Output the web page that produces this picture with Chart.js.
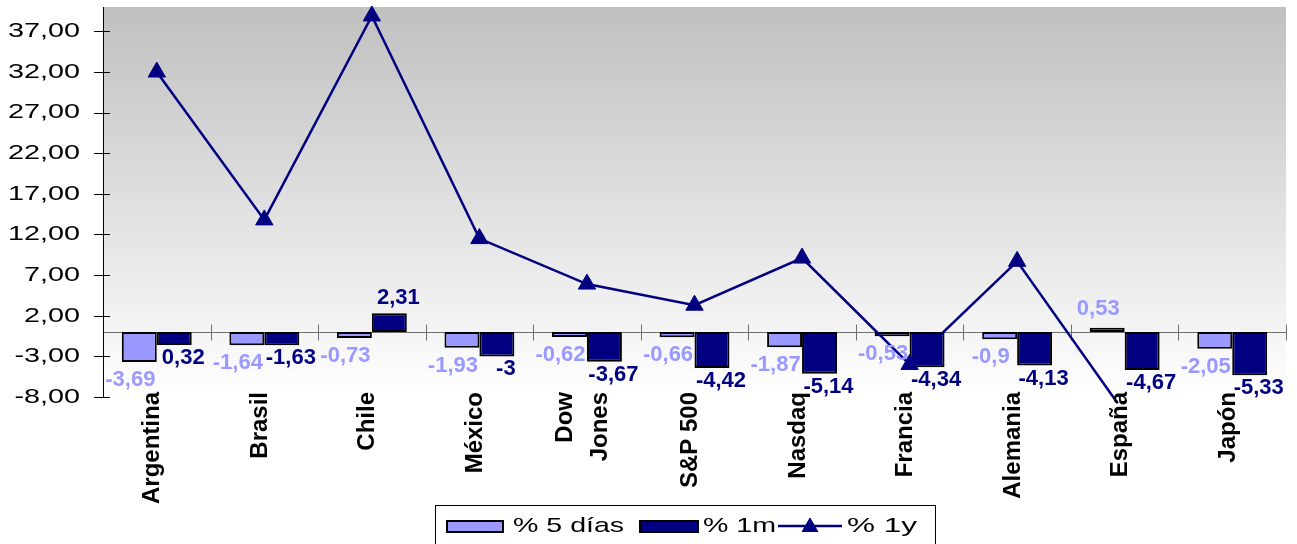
<!DOCTYPE html>
<html>
<head>
<meta charset="utf-8">
<script src="https://cdn.jsdelivr.net/npm/chart.js@4.4.1/dist/chart.umd.min.js"></script>
<style>
    html, body { margin: 0; padding: 0; background: #fff; }
    #wrap { position: relative; width: 1297px; height: 544px; }
</style>
</head>
<body>
<div id="wrap"><canvas id="chart"></canvas></div>
<script>
// datos del gráfico
const categories = ['Argentina', 'Brasil', 'Chile', 'México', ['Dow', 'Jones'], 'S&P 500', 'Nasdaq', 'Francia', 'Alemania', 'España', 'Japón'];
const pct5d = [-3.69, -1.64, -0.73, -1.93, -0.62, -0.66, -1.87, -0.53, -0.9, 0.53, -2.05];
const pct1m = [-1.6, -1.63, 2.31, -3, -3.67, -4.42, -5.14, -4.34, -4.13, -4.67, -5.33];
const pct1y = [32.0, 13.8, 38.9, 11.5, 5.9, 3.3, 9.1, -4.0, 8.7, -10.0, null];
// etiquetas tal como aparecen en la imagen
const labels5d = ['-3,69', '-1,64', '-0,73', '-1,93', '-0,62', '-0,66', '-1,87', '-0,53', '-0,9', '0,53', '-2,05'];
const labels1m = ['0,32', '-1,63', '2,31', '-3', '-3,67', '-4,42', '-5,14', '-4,34', '-4,13', '-4,67', '-5,33'];
const yTicks = [-8, -3, 2, 7, 12, 17, 22, 27, 32, 37];

const NAVY = '#000080';
const LILAC = '#9999FF';
const REGULAR_FONT = '21px "Liberation Sans", Arial, sans-serif';
const BOLD_FONT = 'bold 24px "Liberation Sans", Arial, sans-serif';

// texto ensanchado horizontalmente, como en el original
function drawWide(ctx, text, x, y, align, sx) {
    ctx.save();
    ctx.translate(x, y);
    ctx.scale(sx, 1);
    ctx.textAlign = align;
    ctx.fillText(text, 0, 0);
    ctx.restore();
}

// fondo degradado del área de trazado
const backgroundPlugin = {
    id: 'plotBackground',
    beforeDraw(chart) {
        const { ctx, chartArea: a } = chart;
        const g = ctx.createLinearGradient(0, a.top, 0, a.bottom);
        g.addColorStop(0, '#C0C0C0');
        g.addColorStop(1, '#FFFFFF');
        ctx.save();
        ctx.fillStyle = g;
        ctx.fillRect(a.left, a.top, a.right - a.left, a.bottom - a.top);
        ctx.restore();
    }
};

// eje de categorías en el cero, marcas y rótulos de los ejes
const axesPlugin = {
    id: 'axesText',
    beforeDatasetsDraw(chart) {
        const { ctx, chartArea: a, scales } = chart;
        const y0 = Math.round(scales.y.getPixelForValue(0)) + 0.5;
        ctx.save();
        ctx.strokeStyle = '#707070';
        ctx.lineWidth = 1;
        ctx.beginPath();
        ctx.moveTo(a.left, y0);
        ctx.lineTo(a.right, y0);
        const n = categories.length;
        const step = (a.right - a.left) / n;
        for (let i = 1; i <= n; i++) {
            const x = Math.round(a.left + i * step) + 0.5;
            ctx.moveTo(x, y0 - 8);
            ctx.lineTo(x, y0 + 8);
        }
        ctx.stroke();
        ctx.restore();
    },
    afterDraw(chart) {
        const { ctx, chartArea: a, scales } = chart;
        ctx.save();
        // eje Y: línea, marcas cruzadas y rótulos
        ctx.strokeStyle = '#000';
        ctx.lineWidth = 1;
        ctx.beginPath();
        const ax = Math.round(a.left) + 0.5;
        ctx.moveTo(ax, a.top);
        ctx.lineTo(ax, a.bottom);
        yTicks.forEach(v => {
            const y = Math.round(scales.y.getPixelForValue(v)) + 0.5;
            ctx.moveTo(a.left - 9, y);
            ctx.lineTo(a.left + 7, y);
        });
        ctx.stroke();
        ctx.fillStyle = '#000';
        ctx.font = REGULAR_FONT;
        ctx.textBaseline = 'middle';
        yTicks.forEach(v => {
            const y = scales.y.getPixelForValue(v);
            drawWide(ctx, v.toFixed(2).replace('.', ','), a.left - 23, y, 'right', 1.37);
        });
        // eje X: rótulos verticales
        ctx.font = BOLD_FONT;
        ctx.textAlign = 'right';
        categories.forEach((cat, i) => {
            const lines = Array.isArray(cat) ? cat : [cat];
            const x = scales.x.getPixelForTick(i) - 4;
            lines.forEach((line, j) => {
                const cx = x + (j - (lines.length - 1) / 2) * 35;
                ctx.save();
                ctx.translate(cx, a.bottom - 5);
                ctx.rotate(-Math.PI / 2);
                ctx.fillText(line, 0, 0);
                ctx.restore();
            });
        });
        ctx.restore();
    }
};

// etiquetas de datos de las barras
const barLabelsPlugin = {
    id: 'barLabels',
    afterDatasetsDraw(chart) {
        const { ctx } = chart;
        const conf = [
            { idx: 0, texts: labels5d, color: LILAC, dx: -9, below: 18, above: 19 },
            { idx: 1, texts: labels1m, color: NAVY, dx: 9, below: 13, above: 15 }
        ];
        ctx.save();
        ctx.font = 'bold 22px "Liberation Sans", Arial, sans-serif';
        ctx.textAlign = 'center';
        ctx.textBaseline = 'middle';
        conf.forEach(c => {
            const meta = chart.getDatasetMeta(c.idx);
            const values = chart.data.datasets[c.idx].data;
            ctx.fillStyle = c.color;
            meta.data.forEach((bar, i) => {
                const v = values[i];
                const y = v < 0 ? bar.y + c.below : bar.y - c.above;
                ctx.fillText(c.texts[i], bar.x + c.dx, y);
            });
        });
        ctx.restore();
    }
};

// leyenda con recuadro, abajo al centro
const legendPlugin = {
    id: 'boxLegend',
    afterDraw(chart) {
        const { ctx } = chart;
        const ds = chart.data.datasets;
        const cy = 526;
        ctx.save();
        ctx.strokeStyle = '#000';
        ctx.lineWidth = 1;
        ctx.strokeRect(435.5, 505.5, 500, 50);

        ctx.lineWidth = 2;
        ctx.fillStyle = ds[0].backgroundColor;
        ctx.fillRect(447, 521, 56, 11);
        ctx.strokeRect(447, 521, 56, 11);
        ctx.fillStyle = ds[1].backgroundColor;
        ctx.fillRect(640, 521, 58, 11);
        ctx.strokeRect(640, 521, 58, 11);

        ctx.strokeStyle = ds[2].borderColor;
        ctx.lineWidth = 2.5;
        ctx.beginPath();
        ctx.moveTo(778, cy);
        ctx.lineTo(842, cy);
        ctx.stroke();
        ctx.fillStyle = NAVY;
        ctx.lineWidth = 1;
        Chart.helpers.drawPoint(ctx, { pointStyle: 'triangle', radius: 9, borderWidth: 1, rotation: 0 }, 810, cy + 1);

        ctx.fillStyle = '#000';
        ctx.font = REGULAR_FONT;
        ctx.textBaseline = 'middle';
        drawWide(ctx, ds[0].label, 513, cy, 'left', 1.36);
        drawWide(ctx, ds[1].label, 703, cy, 'left', 1.36);
        drawWide(ctx, ds[2].label, 847, cy, 'left', 1.5);
        ctx.restore();
    }
};

const ctx = document.getElementById('chart').getContext('2d');
new Chart(ctx, {
    type: 'bar',
    data: {
        labels: categories,
        datasets: [
            {
                label: '% 5 días',
                data: pct5d,
                backgroundColor: LILAC,
                borderColor: '#000',
                borderWidth: 2,
                borderSkipped: false,
                categoryPercentage: 0.65,
                barPercentage: 1.0,
                order: 1
            },
            {
                label: '% 1m',
                data: pct1m,
                backgroundColor: NAVY,
                borderColor: '#000',
                borderWidth: 2,
                borderSkipped: false,
                categoryPercentage: 0.65,
                barPercentage: 1.0,
                order: 1
            },
            {
                type: 'line',
                label: '% 1y',
                data: pct1y,
                borderColor: NAVY,
                backgroundColor: NAVY,
                borderWidth: 2.5,
                tension: 0,
                pointStyle: 'triangle',
                pointRadius: 10,
                pointBackgroundColor: NAVY,
                pointBorderColor: NAVY,
                pointBorderWidth: 1,
                spanGaps: false,
                clip: { left: 0, top: 12, right: 0, bottom: 6 },
                order: 0
            }
        ]
    },
    options: {
        responsive: true,
        maintainAspectRatio: false,
        animation: false,
        layout: {
            autoPadding: false,
            padding: { left: 0, right: 11, top: 7, bottom: 39 }
        },
        plugins: {
            legend: { display: false },
            tooltip: { enabled: false }
        },
        scales: {
            x: {
                grid: { display: false, drawTicks: false },
                border: { display: false },
                ticks: { display: false },
                afterFit: s => { s.height = 108; s.paddingLeft = 0; s.paddingRight = 0; }
            },
            y: {
                min: -8,
                max: 40,
                afterBuildTicks: s => { s.ticks = yTicks.map(v => ({ value: v })); },
                afterFit: s => { s.width = 103; s.paddingTop = 0; s.paddingBottom = 0; },
                grid: { display: false, drawTicks: false },
                border: { display: false },
                ticks: { display: false }
            }
        }
    },
    plugins: [backgroundPlugin, axesPlugin, barLabelsPlugin, legendPlugin]
});
</script>
</body>
</html>
